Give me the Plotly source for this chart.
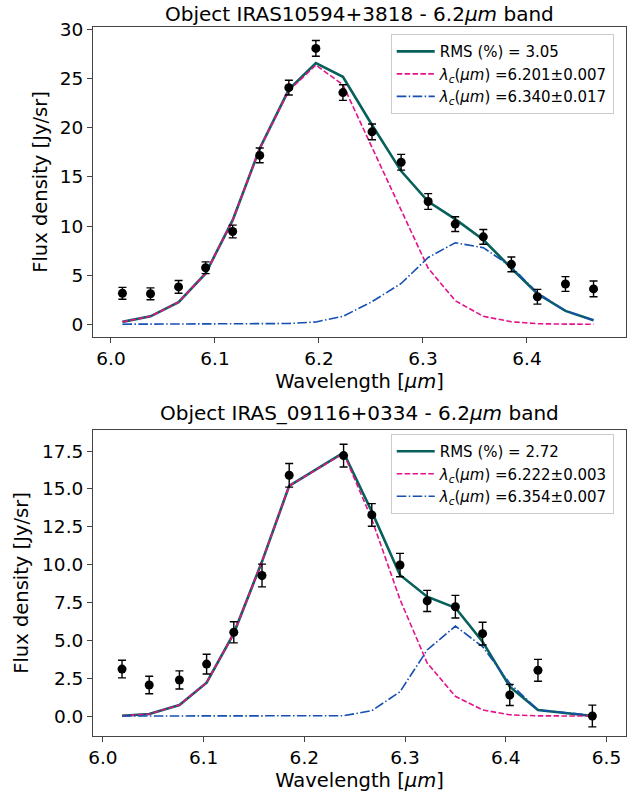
import plotly.graph_objects as go

# ---------------- Top panel: IRAS10594+3818 ----------------
wl1 = [6.011, 6.038, 6.065, 6.091, 6.117, 6.143, 6.171, 6.197, 6.223,
       6.251, 6.279, 6.305, 6.331, 6.358, 6.385, 6.410, 6.437, 6.464]
flux1 = [3.15, 3.1, 3.8, 5.75, 9.45, 17.2, 24.1, 28.1, 23.6,
         19.6, 16.5, 12.5, 10.2, 8.9, 6.1, 2.8, 4.1, 3.6]
err1 = [0.6, 0.6, 0.65, 0.6, 0.65, 0.75, 0.75, 0.8, 0.8,
        0.8, 0.8, 0.8, 0.75, 0.75, 0.75, 0.75, 0.75, 0.8]
total1 = [0.24, 0.8, 2.25, 5.17, 10.6, 17.9, 23.9, 26.6, 25.2,
          20.3, 15.6, 12.5, 10.7, 8.6, 5.7, 3.1, 1.36, 0.4]
comp1a = [0.24, 0.8, 2.25, 5.17, 10.6, 17.9, 23.8, 26.4, 24.4,
          18.0, 11.5, 5.7, 2.4, 0.8, 0.25, 0.05, 0.01, 0.0]
comp1b = [0.0, 0.0, 0.0, 0.0, 0.0, 0.02, 0.07, 0.23, 0.8,
          2.3, 4.15, 6.8, 8.3, 7.8, 5.85, 3.2, 1.36, 0.4]
title1 = "Object IRAS10594+3818 - 6.2<i>μm</i> band"
labels1 = ["RMS (%) = 3.05",
           "<i>λ</i><sub><i>c</i></sub>(<i>μm</i>) =6.201±0.007",
           "<i>λ</i><sub><i>c</i></sub>(<i>μm</i>) =6.340±0.017"]
xticks1 = [6.0, 6.1, 6.2, 6.3, 6.4]
yticks1 = [0, 5, 10, 15, 20, 25, 30]

# ---------------- Bottom panel: IRAS_09116+0334 ----------------
wl2 = [6.019, 6.046, 6.076, 6.103, 6.130, 6.158, 6.185, 6.239,
       6.267, 6.295, 6.322, 6.350, 6.377, 6.404, 6.432, 6.486]
flux2 = [3.1, 2.05, 2.38, 3.43, 5.53, 9.28, 15.9, 17.2,
         13.28, 9.97, 7.6, 7.22, 5.44, 1.39, 3.02, 0.0]
err2 = [0.58, 0.58, 0.6, 0.65, 0.7, 0.75, 0.78, 0.75,
        0.75, 0.77, 0.7, 0.75, 0.75, 0.7, 0.72, 0.72]
total2 = [0.02, 0.13, 0.73, 2.2, 5.46, 10.2, 15.2, 17.4,
          13.5, 9.31, 7.88, 7.15, 4.91, 1.94, 0.4, 0.0]
comp2a = [0.02, 0.13, 0.73, 2.2, 5.46, 10.2, 15.2, 17.35,
          13.0, 7.7, 3.5, 1.3, 0.4, 0.08, 0.01, 0.0]
comp2b = [0.0, 0.0, 0.0, 0.0, 0.0, 0.0, 0.0, 0.02,
          0.35, 1.6, 4.36, 5.94, 4.58, 2.16, 0.4, 0.05]
title2 = "Object IRAS_09116+0334 - 6.2<i>μm</i> band"
labels2 = ["RMS (%) = 2.72",
           "<i>λ</i><sub><i>c</i></sub>(<i>μm</i>) =6.222±0.003",
           "<i>λ</i><sub><i>c</i></sub>(<i>μm</i>) =6.354±0.007"]
xticks2 = [6.0, 6.1, 6.2, 6.3, 6.4, 6.5]
yticks2 = [0.0, 2.5, 5.0, 7.5, 10.0, 12.5, 15.0, 17.5]

GREEN = "#07615a"
PINK = "#e3128b"
BLUE = "#164fb2"
FONT = "DejaVu Sans"

fig = go.Figure()


def add_panel(wl, flux, err, total, ca, cb, labels, xa, ya, legend):
    fig.add_trace(go.Scatter(x=wl, y=total, mode="lines", name=labels[0],
                             line=dict(color=GREEN, width=2.6),
                             xaxis=xa, yaxis=ya, legend=legend))
    fig.add_trace(go.Scatter(x=wl, y=ca, mode="lines", name=labels[1],
                             line=dict(color=PINK, width=1.6, dash="5.5px,2.4px"),
                             xaxis=xa, yaxis=ya, legend=legend))
    fig.add_trace(go.Scatter(x=wl, y=cb, mode="lines", name=labels[2],
                             line=dict(color=BLUE, width=1.6,
                                       dash="9.6px,2.4px,1.5px,2.4px"),
                             xaxis=xa, yaxis=ya, legend=legend))
    fig.add_trace(go.Scatter(x=wl, y=flux, mode="markers", showlegend=False,
                             marker=dict(color="black", size=9),
                             error_y=dict(type="data", array=err, color="black",
                                          thickness=1.4, width=4),
                             xaxis=xa, yaxis=ya))


add_panel(wl1, flux1, err1, total1, comp1a, comp1b, labels1, "x", "y", "legend")
add_panel(wl2, flux2, err2, total2, comp2a, comp2b, labels2, "x2", "y2", "legend2")

axis_common = dict(showline=True, mirror=True, linecolor="#444", linewidth=1,
                   ticks="outside", ticklen=5, tickcolor="#444", tickwidth=1,
                   showgrid=False, zeroline=False,
                   tickfont=dict(family=FONT, size=18.5, color="black"))

legend_common = dict(font=dict(family=FONT, size=15, color="black"),
                     bgcolor="rgba(255,255,255,0.8)", bordercolor="#cccccc",
                     borderwidth=1, xanchor="right", yanchor="top",
                     tracegroupgap=0, itemwidth=38)

fig.update_layout(
    width=636, height=800,
    margin=dict(l=93, r=10, t=27, b=64),
    paper_bgcolor="white", plot_bgcolor="white",
    font=dict(family=FONT, color="black"),
    xaxis=dict(axis_common, domain=[0, 1], anchor="y", range=[5.9827, 6.4952],
               tickvals=xticks1, tickformat=".1f",
               title=dict(text="Wavelength [<i>μm</i>]", standoff=6,
                          font=dict(family=FONT, size=19.5))),
    yaxis=dict(axis_common, domain=[0.5628, 1], anchor="x", range=[-1.30, 30.28],
               tickvals=yticks1,
               title=dict(text="Flux density [Jy/sr]", standoff=6,
                          font=dict(family=FONT, size=19.5))),
    xaxis2=dict(axis_common, domain=[0, 1], anchor="y2", range=[5.9902, 6.5194],
                tickvals=xticks2, tickformat=".1f",
                title=dict(text="Wavelength [<i>μm</i>]", standoff=6,
                           font=dict(family=FONT, size=19.5))),
    yaxis2=dict(axis_common, domain=[0, 0.4316], anchor="x2", range=[-1.32, 18.89],
                tickvals=yticks2, tickformat=".1f",
                title=dict(text="Flux density [Jy/sr]", standoff=8,
                           font=dict(family=FONT, size=19.5))),
    legend=dict(legend_common, x=0.977, y=0.990),
    legend2=dict(legend_common, x=0.977, y=0.4260),
    annotations=[
        dict(text=title1, x=0.5, y=1.0183, xref="paper", yref="paper",
             xanchor="center", yanchor="middle", showarrow=False,
             font=dict(family=FONT, size=20, color="black")),
        dict(text=title2, x=0.5, y=0.4556, xref="paper", yref="paper",
             xanchor="center", yanchor="middle", showarrow=False,
             font=dict(family=FONT, size=20, color="black")),
    ],
)

fig.write_html("out.html")
